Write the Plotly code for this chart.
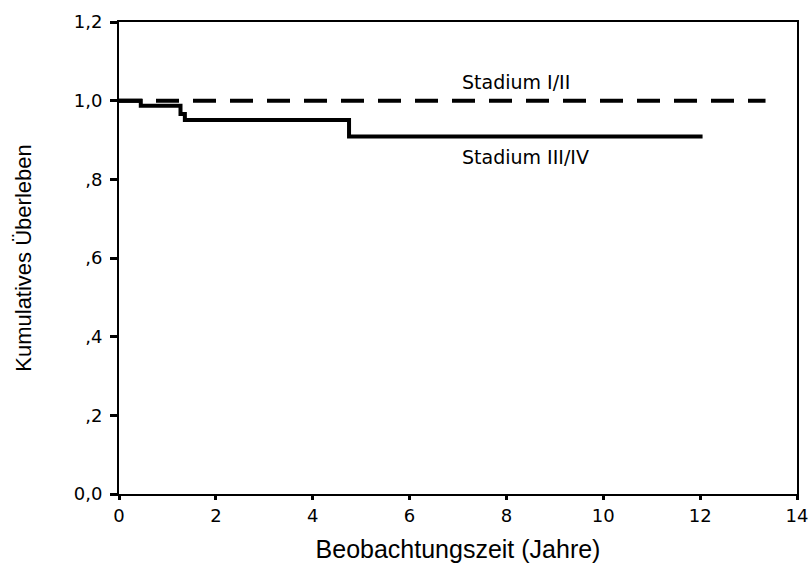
import plotly.graph_objects as go

# Kaplan-Meier survival estimates by tumour stage
stage_early_label = "Stadium I/II"
stage_early_time = [0.0, 13.35]
stage_early_surv = [1.0, 1.0]

stage_late_label = "Stadium III/IV"
stage_late_time = [0.0, 0.45, 1.27, 1.36, 4.75, 12.05]
stage_late_surv = [1.0, 0.987, 0.966, 0.951, 0.909, 0.909]

x_ticks = [0, 2, 4, 6, 8, 10, 12, 14]
y_ticks = [0.0, 0.2, 0.4, 0.6, 0.8, 1.0, 1.2]
y_tick_text = ["0,0", ",2", ",4", ",6", ",8", "1,0", "1,2"]

FONT = "Liberation Sans, Arial, sans-serif"
WIDE = "DejaVu Sans, Verdana, sans-serif"

fig = go.Figure()
fig.add_trace(go.Scatter(
    x=stage_early_time, y=stage_early_surv, mode="lines",
    line=dict(color="black", width=4, dash="23px,14px", shape="hv"),
    name=stage_early_label, showlegend=False,
))
fig.add_trace(go.Scatter(
    x=stage_late_time, y=stage_late_surv, mode="lines",
    line=dict(color="black", width=4, shape="hv"),
    name=stage_late_label, showlegend=False,
))

fig.add_annotation(x=7.05, y=1.0, yshift=6, text=stage_early_label,
                   showarrow=False, xanchor="left", yanchor="bottom",
                   font=dict(family=WIDE, size=19, color="black"))
fig.add_annotation(x=7.05, y=stage_late_surv[-1], yshift=-8, text=stage_late_label,
                   showarrow=False, xanchor="left", yanchor="top",
                   font=dict(family=WIDE, size=19, color="black"))

fig.update_layout(
    width=812, height=575,
    margin=dict(l=119, r=15, t=22, b=81),
    paper_bgcolor="white", plot_bgcolor="white",
    font=dict(family=FONT, color="black"),
    xaxis=dict(
        range=[0, 14], tickvals=x_ticks, ticktext=[str(v) for v in x_ticks],
        showgrid=False, zeroline=False, automargin=False,
        showline=True, mirror=True, linecolor="black", linewidth=2,
        ticks="outside", ticklen=4, tickwidth=3, tickcolor="black",
        tickfont=dict(family=WIDE, size=18),
        title=dict(text="Beobachtungszeit (Jahre)", font=dict(size=25), standoff=16),
    ),
    yaxis=dict(
        range=[0, 1.2], tickvals=y_ticks, ticktext=y_tick_text,
        showgrid=False, zeroline=False, automargin=False,
        showline=True, mirror=True, linecolor="black", linewidth=2,
        ticks="outside", ticklen=7, tickwidth=3, tickcolor="black",
        tickfont=dict(family=WIDE, size=18), ticklabelstandoff=4,
        title=dict(text="Kumulatives Überleben", font=dict(size=22), standoff=36),
    ),
)

fig.write_html("out.html")
